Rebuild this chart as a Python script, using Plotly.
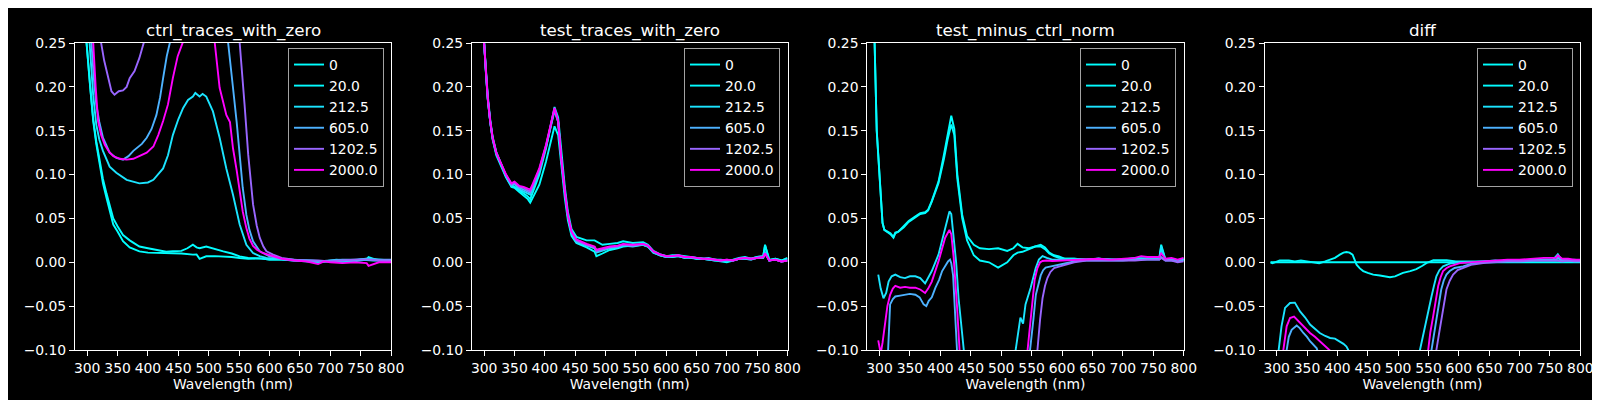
import plotly.graph_objects as go

# ---------------- data ----------------
SERIES_LABELS = ["0", "20.0", "212.5", "605.0", "1202.5", "2000.0"]
SERIES_CONC = [0, 20, 212.5, 605, 1202.5, 2000]
PANEL_TITLES = ["ctrl_traces_with_zero", "test_traces_with_zero", "test_minus_ctrl_norm", "diff"]
X_TICKS = [300, 350, 400, 450, 500, 550, 600, 650, 700, 750, 800]
Y_TICKS = [-0.10, -0.05, 0.00, 0.05, 0.10, 0.15, 0.20, 0.25]

# Panel 1: ctrl_traces_with_zero
ctrl_wl_0 = [290, 299, 305, 310, 315, 321, 326, 332, 338, 343, 350, 359, 370, 386, 400, 414, 430, 441, 455, 474,
             480, 485, 496, 510, 524, 538, 551, 565, 584, 600, 620, 640, 660, 680, 700, 720, 740, 760, 763, 780, 800]
ctrl_0 = [0.45, 0.25, 0.20, 0.161, 0.135, 0.111, 0.090, 0.073, 0.058, 0.043, 0.035, 0.024, 0.017, 0.0125, 0.011, 0.0106, 0.011, 0.0106, 0.010, 0.0087,
          0.009, 0.004, 0.0068, 0.007, 0.0068, 0.006, 0.0049, 0.004, 0.0045, 0.003, 0.003, 0.002, 0.001, 0.000, 0.001, 0.000, 0.001, 0.003, 0.006, 0.002, 0.001]
ctrl_wl_20 = [290, 299, 305, 310, 315, 321, 326, 332, 338, 343, 350, 359, 370, 386, 400, 414, 430, 441, 455, 465,
              474, 480, 485, 496, 510, 524, 538, 551, 565, 584, 600, 620, 640, 660, 680, 700, 720, 740, 760, 780, 800]
ctrl_20 = [0.45, 0.25, 0.20, 0.163, 0.138, 0.115, 0.095, 0.078, 0.062, 0.050, 0.041, 0.031, 0.025, 0.018, 0.016, 0.0144, 0.012, 0.0125, 0.013, 0.016,
           0.020, 0.017, 0.016, 0.018, 0.015, 0.0125, 0.010, 0.0068, 0.005, 0.0045, 0.003, 0.003, 0.002, 0.002, 0.001, 0.001, 0.002, 0.002, 0.004, 0.003, 0.002]
ctrl_wl_212 = [290, 304, 310, 315, 320, 326, 337, 348, 365, 386, 400, 409, 425, 433, 441, 450, 458, 466, 474, 478,
               485, 490, 496, 507, 518, 529, 540, 551, 562, 573, 584, 595, 610, 630, 650, 670, 690, 710, 730, 750, 770, 790, 800]
ctrl_212 = [0.6, 0.25, 0.19, 0.157, 0.14, 0.127, 0.109, 0.102, 0.094, 0.090, 0.091, 0.094, 0.107, 0.122, 0.145, 0.163, 0.176, 0.185, 0.189, 0.193,
            0.189, 0.192, 0.189, 0.172, 0.142, 0.107, 0.077, 0.043, 0.020, 0.0106, 0.007, 0.0049, 0.004, 0.003, 0.002, 0.002, 0.001, 0.003, 0.002, 0.003, 0.002, 0.002, 0.002]
ctrl_wl_605 = [290, 307, 311, 315, 320, 326, 337, 348, 359, 368, 376, 390, 398, 406, 414, 420, 425, 431, 436, 480,
               532, 536, 540, 546, 551, 556, 562, 567, 573, 584, 600, 620, 640, 660, 680, 700, 720, 740, 760, 780, 800]
ctrl_605 = [0.8, 0.25, 0.21, 0.18, 0.16, 0.142, 0.125, 0.119, 0.117, 0.121, 0.127, 0.135, 0.142, 0.152, 0.168, 0.188, 0.21, 0.235, 0.25, 0.45,
            0.25, 0.22, 0.199, 0.16, 0.123, 0.085, 0.054, 0.037, 0.024, 0.0125, 0.0068, 0.004, 0.003, 0.002, 0.001, 0.002, 0.003, 0.003, 0.004, 0.003, 0.003]
ctrl_wl_1202 = [290, 323, 328, 332, 336, 340, 345, 352, 359, 365, 370, 378, 386, 393, 420, 520, 551, 555, 559, 565,
                569, 573, 579, 584, 590, 595, 606, 620, 640, 660, 680, 700, 720, 740, 760, 780, 800]
ctrl_1202 = [1.2, 0.25, 0.23, 0.218, 0.205, 0.195, 0.191, 0.195, 0.196, 0.200, 0.21, 0.218, 0.233, 0.25, 0.5, 0.6, 0.25, 0.21, 0.18, 0.123,
             0.09, 0.066, 0.042, 0.028, 0.018, 0.0125, 0.0087, 0.005, 0.003, 0.002, 0.002, 0.001, 0.002, 0.003, 0.003, 0.002, 0.002]
ctrl_wl_2000 = [290, 310, 314, 318, 323, 329, 336, 343, 354, 365, 376, 386, 398, 409, 417, 425, 433, 441, 449, 457,
                480, 510, 514, 518, 523, 529, 535, 540, 546, 551, 556, 562, 567, 573, 580, 589, 606, 620, 640, 660,
                680, 690, 700, 720, 740, 760, 763, 780, 800]
ctrl_2000 = [0.9, 0.25, 0.2, 0.161, 0.145, 0.134, 0.126, 0.121, 0.118, 0.117, 0.118, 0.121, 0.125, 0.132, 0.145, 0.161, 0.18, 0.21, 0.235, 0.25,
             0.45, 0.25, 0.22, 0.199, 0.185, 0.168, 0.16, 0.130, 0.105, 0.081, 0.058, 0.039, 0.027, 0.0186, 0.014, 0.0106, 0.0068, 0.004, 0.002, 0.001,
             -0.002, 0.001, 0.000, -0.001, 0.000, -0.001, -0.004, 0.000, 0.000]

# Panel 2: test_traces_with_zero (shared wavelength grid)
test_wl = [290, 300, 303, 306, 310, 314, 320, 328, 336, 345, 350, 358, 365, 372, 376, 380, 391, 402, 411, 416,
           422, 427, 433, 438, 444, 452, 469, 482, 485, 495, 507, 520, 529, 545, 562, 570, 579, 590, 601, 610,
           620, 630, 640, 650, 660, 670, 680, 690, 700, 710, 720, 730, 740, 750, 760, 763, 770, 780, 790, 800]
test_0 = [0.5, 0.25, 0.215, 0.185, 0.160, 0.140, 0.122, 0.110, 0.097, 0.086, 0.085, 0.080, 0.076, 0.072, 0.068, 0.073, 0.0885, 0.115, 0.142, 0.155,
          0.145, 0.111, 0.073, 0.048, 0.030, 0.022, 0.017, 0.012, 0.007, 0.010, 0.014, 0.016, 0.018, 0.019, 0.020, 0.018, 0.011, 0.008, 0.006, 0.006,
          0.007, 0.005, 0.006, 0.004, 0.004, 0.003, 0.002, 0.001, 0.000, 0.002, 0.004, 0.005, 0.004, 0.006, 0.007, 0.020, 0.002, 0.004, 0.002, 0.004]
test_20 = [0.5, 0.25, 0.22, 0.19, 0.163, 0.143, 0.126, 0.112, 0.098, 0.087, 0.086, 0.082, 0.079, 0.075, 0.072, 0.080, 0.100, 0.130, 0.160, 0.177,
           0.165, 0.125, 0.086, 0.058, 0.038, 0.029, 0.025, 0.025, 0.024, 0.020, 0.021, 0.022, 0.024, 0.022, 0.023, 0.020, 0.013, 0.009, 0.007, 0.008,
           0.008, 0.007, 0.006, 0.005, 0.004, 0.005, 0.003, 0.003, 0.002, 0.003, 0.005, 0.006, 0.004, 0.006, 0.007, 0.019, 0.003, 0.004, 0.002, 0.005]
test_212 = [0.5, 0.25, 0.216, 0.186, 0.160, 0.141, 0.124, 0.111, 0.098, 0.087, 0.089, 0.083, 0.081, 0.079, 0.077, 0.084, 0.104, 0.131, 0.158, 0.173,
            0.160, 0.119, 0.080, 0.052, 0.033, 0.023, 0.019, 0.016, 0.011, 0.013, 0.016, 0.017, 0.019, 0.018, 0.020, 0.018, 0.011, 0.008, 0.006, 0.006,
            0.007, 0.005, 0.005, 0.004, 0.004, 0.003, 0.002, 0.002, 0.002, 0.002, 0.004, 0.004, 0.003, 0.005, 0.005, 0.012, 0.002, 0.003, 0.001, 0.002]
test_605 = [0.5, 0.25, 0.217, 0.186, 0.160, 0.141, 0.124, 0.112, 0.099, 0.088, 0.090, 0.085, 0.083, 0.081, 0.079, 0.086, 0.105, 0.132, 0.159, 0.174,
            0.160, 0.118, 0.080, 0.053, 0.034, 0.024, 0.020, 0.017, 0.012, 0.014, 0.017, 0.018, 0.020, 0.019, 0.020, 0.018, 0.012, 0.008, 0.006, 0.007,
            0.007, 0.006, 0.005, 0.005, 0.004, 0.003, 0.003, 0.002, 0.002, 0.002, 0.004, 0.004, 0.003, 0.005, 0.005, 0.011, 0.002, 0.003, 0.001, 0.002]
test_1202 = [0.5, 0.25, 0.218, 0.187, 0.161, 0.142, 0.125, 0.113, 0.100, 0.089, 0.091, 0.086, 0.085, 0.082, 0.081, 0.087, 0.106, 0.133, 0.160, 0.175,
             0.161, 0.119, 0.081, 0.054, 0.035, 0.025, 0.020, 0.017, 0.013, 0.015, 0.017, 0.018, 0.020, 0.019, 0.021, 0.019, 0.012, 0.009, 0.007, 0.007,
             0.008, 0.006, 0.006, 0.005, 0.004, 0.004, 0.003, 0.002, 0.003, 0.002, 0.004, 0.005, 0.004, 0.005, 0.006, 0.010, 0.002, 0.003, 0.001, 0.002]
test_2000 = [0.5, 0.25, 0.218, 0.187, 0.161, 0.142, 0.125, 0.113, 0.100, 0.090, 0.092, 0.087, 0.086, 0.084, 0.083, 0.089, 0.1075, 0.134, 0.161, 0.176,
             0.161, 0.119, 0.081, 0.054, 0.035, 0.026, 0.021, 0.018, 0.0144, 0.016, 0.018, 0.019, 0.021, 0.020, 0.021, 0.019, 0.0125, 0.009, 0.0068, 0.007,
             0.008, 0.006, 0.006, 0.005, 0.004, 0.004, 0.003, 0.002, 0.003, 0.002, 0.004, 0.005, 0.004, 0.005, 0.006, 0.010, 0.002, 0.003, 0.001, 0.002]

# Panel 3: test_minus_ctrl_norm
tmc_wl_cyan = [288, 292, 295.5, 299, 302, 305, 308, 312, 318, 323, 326, 331, 340, 348, 358, 367, 375, 380, 386, 397,
               406, 412, 418, 423, 428, 436, 444, 455, 465, 480, 495, 510, 520, 527, 535, 546, 556, 565, 572, 579,
               587, 595, 605, 620, 640, 660, 680, 700, 720, 740, 760, 763, 770, 780, 790, 800]
tmc_0 = [0.45, 0.25, 0.15, 0.11, 0.075, 0.045, 0.037, 0.035, 0.033, 0.029, 0.034, 0.035, 0.041, 0.047, 0.052, 0.056, 0.057, 0.060, 0.070, 0.092,
         0.123, 0.145, 0.167, 0.152, 0.10, 0.054, 0.030, 0.020, 0.016, 0.015, 0.016, 0.013, 0.016, 0.021, 0.017, 0.016, 0.018, 0.020, 0.017, 0.011,
         0.008, 0.0068, 0.004, 0.004, 0.003, 0.004, 0.003, 0.003, 0.005, 0.004, 0.005, 0.020, 0.003, 0.004, 0.002, 0.004]
tmc_20 = [0.45, 0.25, 0.15, 0.11, 0.075, 0.045, 0.037, 0.035, 0.032, 0.028, 0.033, 0.035, 0.040, 0.046, 0.051, 0.055, 0.056, 0.059, 0.069, 0.090,
          0.118, 0.140, 0.157, 0.145, 0.095, 0.050, 0.025, 0.008, 0.002, 0.000, -0.006, 0.000, 0.008, 0.011, 0.012, 0.015, 0.018, 0.018, 0.015, 0.010,
          0.007, 0.005, 0.004, 0.004, 0.003, 0.004, 0.003, 0.003, 0.004, 0.004, 0.005, 0.015, 0.003, 0.004, 0.002, 0.003]
tmc_wl_212 = [298, 302, 306.6, 311, 315, 320, 326, 334, 342, 350, 359, 367, 375, 380, 386, 397, 403, 408, 415, 418,
              422, 426, 430, 434, 438.6, 445, 500, 523.8, 527, 531.6, 536, 540, 548.5, 556.8, 562, 568, 575, 584, 595, 610,
              630, 660, 690, 720, 740, 760, 763, 770, 790, 800]
tmc_212 = [-0.014, -0.030, -0.041, -0.035, -0.022, -0.016, -0.014, -0.017, -0.018, -0.016, -0.016, -0.018, -0.024, -0.018, -0.010, 0.0087, 0.025, 0.039, 0.058, 0.055,
           0.031, 0.000, -0.041, -0.07, -0.1, -0.2, -0.4, -0.1, -0.085, -0.063, -0.07, -0.048, -0.029, -0.0065, 0.003, 0.007, 0.005, 0.003, 0.003, 0.003,
           0.003, 0.004, 0.003, 0.004, 0.004, 0.004, 0.018, 0.003, 0.002, 0.003]
tmc_wl_605 = [311, 314, 317.5, 322, 326, 334, 342, 350, 359, 366, 372.6, 377, 381, 386, 392, 398, 403, 408, 412.7, 416,
              418, 421, 424.8, 428.7, 435, 500, 548.5, 553, 557, 561, 565, 569, 573, 580, 589.8, 601, 620, 640, 660, 680,
              700, 720, 740, 760, 763, 770, 780, 790, 800]
tmc_605 = [-0.15, -0.1, -0.048, -0.042, -0.039, -0.038, -0.037, -0.036, -0.037, -0.040, -0.048, -0.050, -0.044, -0.040, -0.029, -0.020, -0.010, -0.004, 0.001, 0.003,
           -0.001, -0.015, -0.06, -0.1, -0.2, -0.4, -0.1, -0.065, -0.037, -0.024, -0.015, -0.009, -0.006, -0.005, -0.004, -0.002, 0.001, 0.002, 0.002, 0.002,
           0.002, 0.003, 0.003, 0.003, 0.006, 0.002, 0.002, 0.001, 0.002]
tmc_wl_1202 = [540, 559.6, 564, 568, 572, 576, 581, 587, 595, 601, 620, 640, 660, 680, 700, 720, 740, 760, 763, 770, 780, 790, 800]
tmc_1202 = [-0.4, -0.1, -0.065, -0.041, -0.027, -0.018, -0.011, -0.0065, -0.005, -0.004, 0.0, 0.002, 0.002, 0.002, 0.002, 0.002, 0.003, 0.003, 0.005, 0.002, 0.002, 0.000, 0.001]
tmc_wl_2000 = [298, 302, 305, 309, 313, 317.5, 322, 326, 334, 342, 350, 359, 367, 375, 380, 386, 397, 408, 415, 418,
               422, 427.6, 433, 440, 500, 543, 547, 551, 555, 559.6, 564, 568, 575, 584, 600, 620, 640, 660, 680, 700,
               720, 730, 740, 760, 763, 770, 780, 790, 800]
tmc_2000 = [-0.089, -0.104, -0.092, -0.072, -0.05, -0.037, -0.030, -0.027, -0.029, -0.028, -0.029, -0.029, -0.031, -0.035, -0.030, -0.022, 0.001, 0.028, 0.037, 0.032,
            0.005, -0.052, -0.1, -0.2, -0.4, -0.1, -0.07, -0.041, -0.02, -0.0065, 0.0, 0.0015, 0.002, 0.0015, 0.002, 0.003, 0.004, 0.004, 0.003, 0.004,
            0.005, 0.007, 0.006, 0.006, 0.010, 0.004, 0.005, 0.003, 0.005]

# Panel 4: diff
diff_wl_0 = [290, 400, 500, 600, 700, 800]
diff_0 = [0.0, 0.0, 0.0, 0.0, 0.0, 0.0]
diff_wl_20 = [290, 293, 297, 300, 305, 310, 320, 330, 340, 350, 360, 370, 380, 388, 396, 404, 410, 415, 420, 425,
              431.6, 437, 442.6, 450, 459, 470, 480, 486.5, 495, 508, 520, 530, 540, 547, 558, 570, 580, 595, 607, 620,
              640, 660, 680, 700, 720, 740, 755, 763, 770, 780, 790, 800]
diff_20 = [0.000, -0.001, 0.000, 0.001, 0.002, 0.002, 0.002, 0.001, 0.002, 0.001, 0.000, -0.001, 0.001, 0.003, 0.005, 0.0087, 0.011, 0.0117, 0.011, 0.0087,
           -0.0027, -0.007, -0.010, -0.012, -0.014, -0.015, -0.016, -0.017, -0.016, -0.012, -0.010, -0.0077, -0.004, -0.0008, 0.0023, 0.002, 0.0023, 0.001, 0.001, 0.0015,
           0.001, 0.002, 0.001, 0.002, 0.002, 0.003, 0.003, 0.009, 0.002, 0.003, 0.002, 0.002]
diff_wl_212 = [290, 302.8, 308, 313.8, 322, 330, 338.5, 347, 355, 363, 371, 380, 388, 396, 404, 410, 415, 418, 430, 500,
               536, 541, 547, 551, 555, 559, 563, 568, 574, 585, 600, 620, 640, 660, 680, 700, 720, 740, 760, 763,
               770, 780, 790, 800]
diff_212 = [-0.3, -0.103, -0.073, -0.052, -0.0464, -0.046, -0.056, -0.063, -0.071, -0.076, -0.0806, -0.084, -0.0863, -0.087, -0.090, -0.093, -0.096, -0.1, -0.15, -0.4,
            -0.1, -0.083, -0.065, -0.052, -0.039, -0.027, -0.016, -0.009, -0.0046, -0.0015, 0.0, 0.000, 0.001, 0.001, 0.002, 0.002, 0.003, 0.003, 0.003, 0.007,
            0.003, 0.002, 0.003, 0.002]
diff_wl_605 = [300, 316.5, 320, 324.7, 333, 338, 344, 350, 355, 360, 366, 380, 500, 555, 559, 563, 567, 571, 575, 579.6,
               585, 593, 607, 620, 640, 660, 680, 700, 720, 740, 760, 763, 770, 780, 790, 800]
diff_605 = [-0.3, -0.1, -0.085, -0.077, -0.072, -0.075, -0.0806, -0.085, -0.090, -0.094, -0.098, -0.13, -0.4, -0.1, -0.082, -0.065, -0.047, -0.031, -0.021, -0.014,
            -0.010, -0.0065, -0.0046, -0.002, 0.000, 0.001, 0.001, 0.001, 0.002, 0.002, 0.002, 0.005, 0.001, 0.002, 0.001, 0.002]
diff_wl_1202 = [540, 563, 567, 571, 575, 579.6, 585, 590.6, 598, 607, 620, 640, 660, 680, 700, 720, 740, 760, 770, 780, 790, 800]
diff_1202 = [-0.4, -0.1, -0.083, -0.065, -0.047, -0.031, -0.021, -0.014, -0.009, -0.0065, -0.003, -0.001, 0.000, 0.001, 0.001, 0.002, 0.002, 0.002, 0.001, 0.002, 0.001, 0.001]
diff_wl_2000 = [300, 311, 316.5, 322, 328.6, 338.5, 347, 355, 363, 371, 378, 385, 390, 400, 500, 549.5, 553, 557.7, 562, 566,
                570, 574, 580, 585, 601.6, 620, 640, 660, 680, 700, 720, 740, 760, 763, 770, 780, 790, 800]
diff_2000 = [-0.3, -0.1, -0.073, -0.0635, -0.062, -0.069, -0.075, -0.0806, -0.085, -0.090, -0.094, -0.098, -0.102, -0.12, -0.4, -0.1, -0.08, -0.0616, -0.043, -0.027,
             -0.017, -0.010, -0.0065, -0.0046, -0.001, 0.000, 0.001, 0.002, 0.003, 0.003, 0.004, 0.005, 0.005, 0.008, 0.004, 0.004, 0.003, 0.003]

PANELS = [
    [(ctrl_wl_0, ctrl_0), (ctrl_wl_20, ctrl_20), (ctrl_wl_212, ctrl_212), (ctrl_wl_605, ctrl_605), (ctrl_wl_1202, ctrl_1202), (ctrl_wl_2000, ctrl_2000)],
    [(test_wl, test_0), (test_wl, test_20), (test_wl, test_212), (test_wl, test_605), (test_wl, test_1202), (test_wl, test_2000)],
    [(tmc_wl_cyan, tmc_0), (tmc_wl_cyan, tmc_20), (tmc_wl_212, tmc_212), (tmc_wl_605, tmc_605), (tmc_wl_1202, tmc_1202), (tmc_wl_2000, tmc_2000)],
    [(diff_wl_0, diff_0), (diff_wl_20, diff_20), (diff_wl_212, diff_212), (diff_wl_605, diff_605), (diff_wl_1202, diff_1202), (diff_wl_2000, diff_2000)],
]

# ---------------- style / layout ----------------
W, H = 1600, 400
FONT = "DejaVu Sans"
FS = 13.9
X_DOMAINS_PX = [(67, 383), (464, 779.5), (859.3, 1175.7), (1256.5, 1572.3)]
LEGEND_RIGHT_PX = [376, 772, 1168, 1565]
Y_TOP_PX, Y_BOT_PX = 35, 342


def cool(v):
    t = v / max(SERIES_CONC)
    return "rgb(%d,%d,255)" % (round(255 * t), round(255 * (1 - t)))


fig = go.Figure()
layout = dict(
    width=W, height=H,
    margin=dict(l=0, r=0, t=0, b=0),
    paper_bgcolor="black", plot_bgcolor="black",
    font=dict(family=FONT, size=FS, color="white"),
    showlegend=True,
    annotations=[],
)

for p, series in enumerate(PANELS):
    sfx = "" if p == 0 else str(p + 1)
    leg = "legend" + sfx
    for i, (wl, vals) in enumerate(series):
        fig.add_trace(go.Scatter(
            x=wl, y=vals, mode="lines", name=SERIES_LABELS[i],
            line=dict(color=cool(SERIES_CONC[i]), width=1.9),
            xaxis="x" + sfx, yaxis="y" + sfx, legend=leg,
            legendgroup="p%d_%d" % (p, i),
        ))
    x0, x1 = X_DOMAINS_PX[p]
    axcommon = dict(showline=True, mirror=True, linecolor="white", linewidth=1,
                    ticks="outside", ticklen=5, tickwidth=1, tickcolor="white",
                    showgrid=False, zeroline=False, automargin=False,
                    tickfont=dict(family=FONT, size=FS, color="white"))
    layout["xaxis" + sfx] = dict(axcommon, domain=[x0 / W, x1 / W], range=[280, 800],
                                 tickvals=X_TICKS, anchor="y" + sfx,
                                 title=dict(text="Wavelength (nm)", standoff=4,
                                            font=dict(family=FONT, size=FS, color="white")))
    layout["yaxis" + sfx] = dict(axcommon, domain=[1 - Y_BOT_PX / H, 1 - Y_TOP_PX / H], range=[-0.10, 0.25],
                                 tickvals=Y_TICKS, tickformat=".2f", anchor="x" + sfx)
    layout[leg] = dict(x=LEGEND_RIGHT_PX[p] / W, y=1 - 40 / H, xanchor="right", yanchor="top",
                       bgcolor="black", bordercolor="#a3a3a3", borderwidth=1,
                       font=dict(family=FONT, size=FS, color="white"),
                       traceorder="grouped", tracegroupgap=0, itemwidth=30)
    layout["annotations"].append(dict(
        text=PANEL_TITLES[p], x=(x0 + x1) / 2 / W, y=1 - 22 / H, xref="paper", yref="paper",
        xanchor="center", yanchor="middle", showarrow=False,
        font=dict(family=FONT, size=16.7, color="white")))

fig.update_layout(**layout)
fig.write_html("out.html")
